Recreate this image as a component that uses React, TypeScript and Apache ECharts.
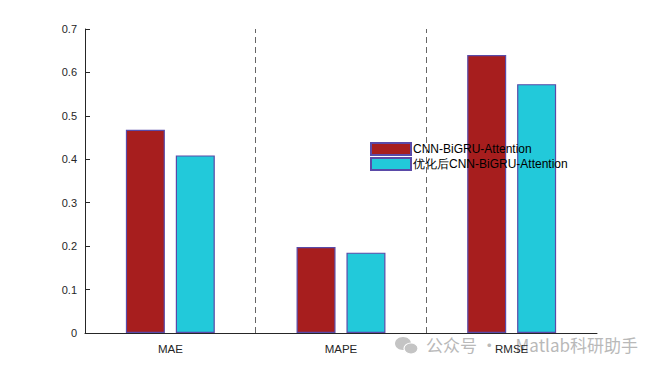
import React, { useEffect, useRef } from "react";
import * as echarts from "echarts";

const categories = ["MAE", "MAPE", "RMSE"];
const seriesNames = ["CNN-BiGRU-Attention", "优化后CNN-BiGRU-Attention"];
const baseValues = [0.468, 0.198, 0.640];
const optimizedValues = [0.409, 0.185, 0.573];
const dividerPositions = [0.5, 1.5];

export default function App() {
  const ref = useRef<HTMLDivElement>(null);
  useEffect(() => {
    const chart = echarts.init(ref.current!, undefined, { renderer: "svg" });
    const font = "Liberation Sans, Arial, sans-serif";
    const wmFont = "17px 'Noto Sans CJK SC', sans-serif";
    chart.setOption({
      animation: false,
      backgroundColor: "#ffffff",
      grid: { left: 85, right: 63, top: 29, bottom: 42 },
      legend: {
        orient: "vertical",
        left: 365,
        top: 137,
        itemWidth: 40,
        itemHeight: 12,
        itemGap: 1,
        icon: "rect",
        textStyle: { fontFamily: font, fontSize: 12, color: "#000", padding: [0, 0, 0, -3] },
        data: seriesNames,
      },
      xAxis: [
        {
          type: "category",
          data: categories,
          axisLine: { lineStyle: { color: "#262626", width: 1 } },
          axisTick: { inside: true, alignWithLabel: true, length: 5, lineStyle: { color: "#262626" } },
          axisLabel: { fontFamily: font, fontSize: 11.5, color: "#262626", margin: 10 },
          splitLine: { show: false },
        },
        {
          type: "value",
          min: -0.5,
          max: 2.5,
          show: false,
        },
      ],
      yAxis: {
        type: "value",
        min: 0,
        max: 0.7,
        interval: 0.1,
        axisLine: { show: true, onZero: false, lineStyle: { color: "#262626", width: 1 } },
        axisTick: { show: true, inside: true, length: 5, lineStyle: { color: "#262626" } },
        axisLabel: { fontFamily: font, fontSize: 11, color: "#262626", margin: 8 },
        splitLine: { show: false },
      },
      graphic: [
        {
          type: "group",
          left: 395,
          top: 337,
          z: -1,
          children: [
            { type: "ellipse", shape: { cx: 8, cy: 8, rx: 8, ry: 6.5 }, style: { fill: "#c4c4c4" } },
            { type: "ellipse", shape: { cx: 16, cy: 13, rx: 7, ry: 5.5 }, style: { fill: "#c4c4c4", stroke: "#fff", lineWidth: 1.2 } },
          ],
        },
        {
          type: "text",
          left: 426,
          top: 336,
          z: -1,
          style: { text: "公众号 ·", font: wmFont, fill: "#b9b9b9" },
        },
        {
          type: "text",
          right: 22,
          top: 336,
          z: -1,
          style: { text: "Matlab科研助手", font: wmFont, fill: "#b9b9b9" },
        },
      ],
      series: [
        {
          name: seriesNames[0],
          type: "bar",
          data: baseValues,
          barWidth: 39,
          barGap: "28%",
          itemStyle: { color: "#a71e1e", borderColor: "#5a4aa8", borderWidth: 1.2 },
          z: 3,
        },
        {
          name: seriesNames[1],
          type: "bar",
          data: optimizedValues,
          barWidth: 39,
          itemStyle: { color: "#22c9da", borderColor: "#5a4aa8", borderWidth: 1.2 },
          z: 3,
        },
        {
          name: "dividers",
          type: "line",
          xAxisIndex: 1,
          data: [],
          silent: true,
          markLine: {
            symbol: "none",
            silent: true,
            label: { show: false },
            lineStyle: { type: [6, 4], color: "#666", width: 1 },
            data: dividerPositions.map((x) => ({ xAxis: x })),
          },
        },
      ],
    });
    return () => chart.dispose();
  }, []);
  return <div ref={ref} style={{ width: 660, height: 375, position: "absolute", left: 0, top: 0 }} />;
}
